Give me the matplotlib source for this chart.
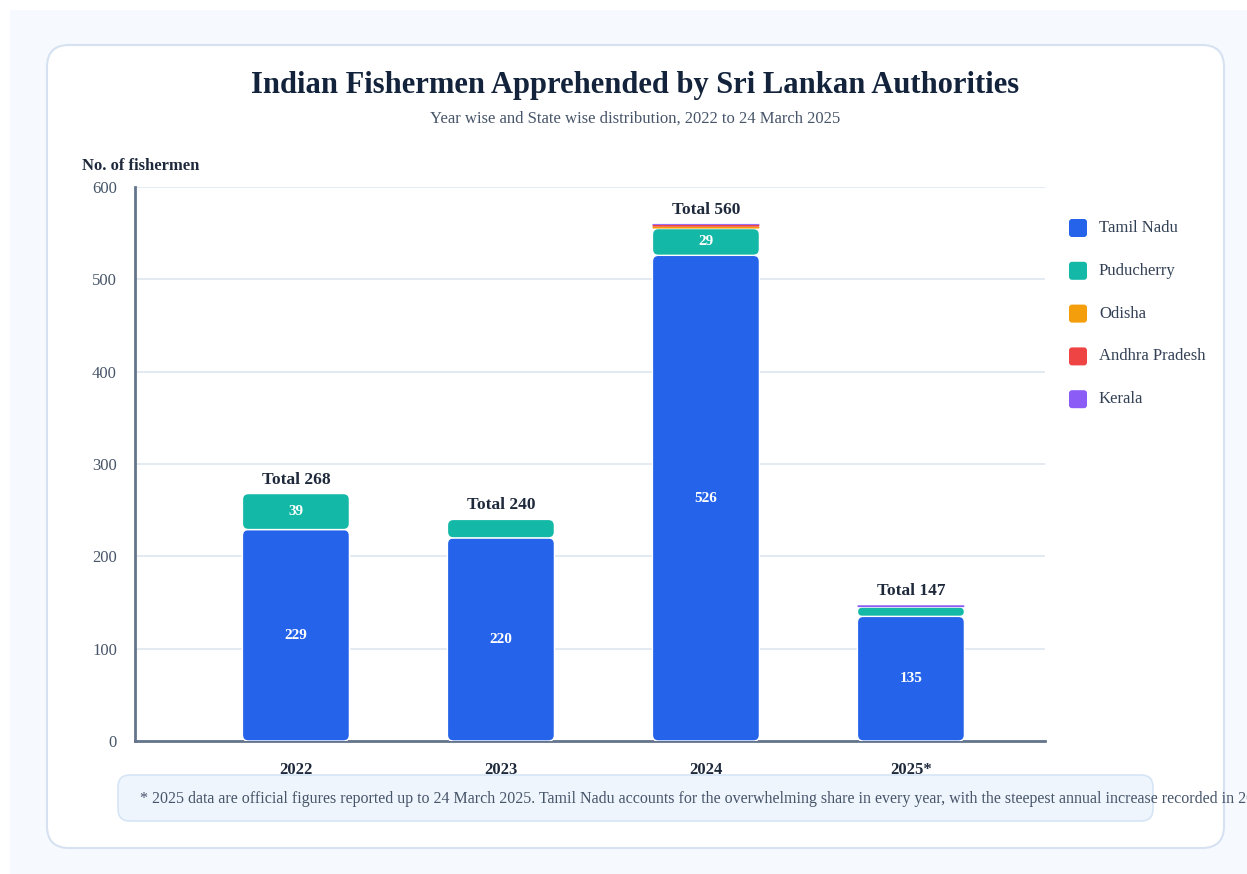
import matplotlib
matplotlib.use("Agg")
import matplotlib.pyplot as plt
from matplotlib.patches import FancyBboxPatch, Rectangle

# dados (pescadores detidos por estado)
years = ["2022", "2023", "2024", "2025*"]
states = ["Tamil Nadu", "Puducherry", "Odisha", "Andhra Pradesh", "Kerala"]
tamil_nadu = [229, 220, 526, 135]
puducherry = [39, 20, 29, 10]
odisha = [0, 0, 2, 0]
andhra = [0, 0, 2, 0]
kerala = [0, 0, 1, 2]
series = [tamil_nadu, puducherry, odisha, andhra, kerala]
colors = ["#2563eb", "#14b8a6", "#f59e0b", "#ef4444", "#8b5cf6"]
yticks = [0, 100, 200, 300, 400, 500, 600]

W, H = 1247, 874
plt.rcParams['font.family'] = ['Liberation Serif', 'DejaVu Serif']

fig = plt.figure(figsize=(W / 100, H / 100), dpi=100)
fig.patch.set_facecolor("white")

def fx(x):
    return x / W

def fy(y):
    return 1 - y / H

# fundo e cartao
fig.patches.append(Rectangle((fx(10), 0), 1, fy(10), transform=fig.transFigure,
                             facecolor="#f6f9fe", edgecolor="none", zorder=-3))
card = FancyBboxPatch((47, H - 848), 1224 - 47, 848 - 45,
                      boxstyle="round,pad=0,rounding_size=22",
                      transform=None, facecolor="white", edgecolor="#d6e2f1",
                      linewidth=1.5, zorder=-2)
fig.patches.append(card)

fig.text(fx(635), fy(85), "Indian Fishermen Apprehended by Sri Lankan Authorities",
         ha="center", va="center", fontsize=22, fontweight="bold", color="#13233b")
fig.text(fx(635), fy(119), "Year wise and State wise distribution, 2022 to 24 March 2025",
         ha="center", va="center", fontsize=12, color="#475569")
fig.text(fx(82), fy(166), "No. of fishermen", ha="left", va="center",
         fontsize=12, fontweight="bold", color="#1e293b")

# nota de rodape (atras do eixo)
note = FancyBboxPatch((118, H - 821), 1153 - 118, 821 - 775,
                      boxstyle="round,pad=0,rounding_size=12",
                      transform=None, facecolor="#eef5fd", edgecolor="#d5e5f6",
                      linewidth=1.2, zorder=-1)
fig.patches.append(note)
fig.text(fx(140), fy(799),
         "* 2025 data are official figures reported up to 24 March 2025. Tamil Nadu accounts for the "
         "overwhelming share in every year, with the steepest annual increase recorded in 2024.",
         ha="left", va="center", fontsize=11.5, color="#475569")

# eixo principal
left, right, top, bottom = 135, 1045, 187, 741
ax = fig.add_axes([fx(left), fy(bottom), (right - left) / W, (bottom - top) / H])
ax.set_facecolor("none")
xmin, xmax = -0.785, 3.654
ax.set_xlim(xmin, xmax)
ax.set_ylim(0, 600)
ax.set_yticks(yticks)
ax.grid(axis="y", color="#e2e8f0", linewidth=1.3)
ax.set_axisbelow(True)
for s in ["top", "right"]:
    ax.spines[s].set_visible(False)
for s in ["left", "bottom"]:
    ax.spines[s].set_color("#64748b")
    ax.spines[s].set_linewidth(2)
ax.tick_params(axis="y", length=0, pad=13, labelsize=12, labelcolor="#475569")
ax.set_xticks(range(len(years)))
ax.set_xticklabels(years, fontweight="bold", fontsize=12, color="#1e293b")
ax.tick_params(axis="x", length=0, pad=15)

px_x = (right - left) / (xmax - xmin)
px_y = (bottom - top) / 600.0
bw = 0.522

for i in range(len(years)):
    base = 0
    for vals, col in zip(series, colors):
        v = vals[i]
        if v <= 0:
            continue
        h_px = v * px_y
        r_px = min(6.0, h_px / 2, bw * px_x / 2)
        lw = 1 if h_px > 5 else 0
        p = FancyBboxPatch((i - bw / 2, base), bw, v,
                           boxstyle="round,pad=0,rounding_size=%f" % (r_px / px_x),
                           mutation_aspect=px_x / px_y,
                           facecolor=col, edgecolor="white", linewidth=lw, zorder=3)
        ax.add_patch(p)
        if v >= 25:
            ax.text(i, base + v / 2, str(v), ha="center", va="center",
                    color="white", fontsize=11, fontweight="bold", zorder=4)
        base += v
    ax.text(i, base + 6 / px_y, "Total %d" % base, ha="center", va="bottom",
            fontsize=12.5, fontweight="bold", color="#1e293b", zorder=4)

# legenda
for k, (name, col) in enumerate(zip(states, colors)):
    yc = 228 + k * 42.8
    sq = FancyBboxPatch((1069, H - yc - 9), 18, 18,
                        boxstyle="round,pad=0,rounding_size=3",
                        transform=None, facecolor=col, edgecolor="none")
    fig.patches.append(sq)
    fig.text(fx(1099), fy(yc), name, ha="left", va="center",
             fontsize=12, color="#334155")

fig.savefig("out.png", dpi=100)
